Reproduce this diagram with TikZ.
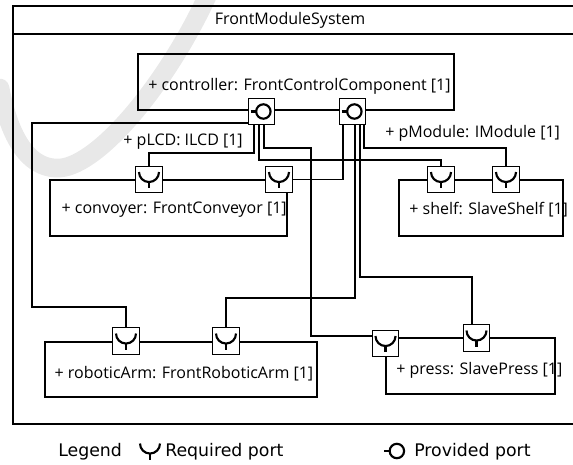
\documentclass[tikz,border=0pt]{standalone}
\usepackage{fontspec}
\setmainfont{Open Sans}
\newfontfamily\legendfont{DejaVu Sans}
\usetikzlibrary{positioning}

\tikzset{
  comp/.style={draw, line width=0.9pt, inner sep=0pt, minimum height=42pt},
  comptext/.style={anchor=west, inner sep=0pt, font=\fontsize{12}{14}\selectfont},
  port/.style={draw, line width=0.9pt, fill=white, minimum size=20pt, inner sep=0pt},
  wire/.style={line width=1.4pt},
  legendtext/.style={inner sep=0pt, font=\legendfont\fontsize{13}{15}\selectfont},
  % socket: cup with a short stem
  reqport/.pic={
    \draw[line width=1.6pt] (-7.5pt,5.6pt) arc[start angle=180, end angle=360, radius=7.5pt];
    \draw[line width=1.6pt] (0,-1.9pt) -- (0,-6.4pt);
  },
  % ball with a short stick on the left
  provport/.pic={
    \draw[line width=1.6pt] (1.4pt,0) circle[radius=5.4pt];
    \draw[line width=1.6pt] (-8.1pt,0) -- (-4pt,0);
  }
}

\begin{document}
\begin{tikzpicture}[x=0.75pt, y=-0.75pt]
  \useasboundingbox (0,0) rectangle (573,464);

  % light brush stroke behind everything
  \draw[black!9, line width=14pt, line cap=round]
    (210,-10) .. controls (170,80) and (100,165) .. (60,168)
    .. controls (25,170) and (8,130) .. (0,88);

  % system frame with its title bar
  \draw[line width=0.9pt] (13,6) rectangle (590,424);
  \draw[line width=0.9pt] (13,34) -- (590,34);
  \node[comptext, anchor=center] (sysname) at (290,20) {FrontModuleSystem};

  % parts
  \node[comp, minimum width=237pt] (controller) at (296,82) {};
  \node[comp, minimum width=177.75pt] (convoyer) at (168.5,208) {};
  \node[comp, minimum width=123pt] (shelf) at (481,208) {};
  \node[comp, minimum width=204pt, minimum height=41.25pt] (arm) at (181,369.5) {};
  \node[comp, minimum width=126.75pt] (press) at (470.5,366) {};

  \node[comptext] (controllertext) at ([xshift=8pt, yshift=-3pt]controller.west) {+ controller: FrontControlComponent [1]};
  \node[comptext] (convoyertext) at ([xshift=9pt, yshift=-1pt]convoyer.west) {+ convoyer: FrontConveyor [1]};
  \node[comptext] (shelftext) at ([xshift=8pt, yshift=-1pt]shelf.west) {+ shelf: SlaveShelf [1]};
  \node[comptext] (armtext) at ([xshift=7.5pt, yshift=-3pt]arm.west) {+ roboticArm: FrontRoboticArm [1]};
  \node[comptext] (presstext) at ([xshift=8pt, yshift=-3pt]press.west) {+ press: SlavePress [1]};

  \node[comptext, anchor=east] (lcdlbl) at (243,142) {+ pLCD: ILCD [1]};
  \node[comptext] (modlbl) at (385,133) {+ pModule: IModule [1]};

  % ports
  \foreach \nm/\x/\y in {lcd/261.5/111.5, mod/352.5/111.5} {
    \node[port] (\nm) at (\x,\y) {};
    \pic at (\nm) {provport};
  }
  \foreach \nm/\x/\y in {conv1/149/179.5, conv2/279/179.5, shelf1/441/179.5, shelf2/506/179.5,
                         arm1/126/341, arm2/226/341, press1/385.5/343.5, press2/476.5/338} {
    \node[port] (\nm) at (\x,\y) {};
    \pic at (\nm) {reqport};
  }

  % connectors
  \draw[wire] ([yshift=-8.6pt]lcd.west) -| (32,307) -| (arm1.north);
  \draw[wire] ([xshift=-5.6pt]lcd.south) |- ([yshift=9.75pt]conv1.north) -- (conv1.north);
  \draw[wire] ([xshift=-1.9pt]lcd.south) |- ([yshift=4.5pt]shelf1.north) -- (shelf1.north);
  \draw[wire] ([xshift=1.9pt]lcd.south) |- (311,148) |- ([yshift=5.6pt]press1.west);

  \draw[wire] ([xshift=-7.1pt]mod.south) |- (conv2.east);
  \draw[wire] ([xshift=1.9pt]mod.south) |- ([yshift=21.75pt]arm2.north) -- (arm2.north);
  \draw[wire] ([xshift=5.6pt]mod.south) |- ([xshift=-3.4pt, yshift=35.25pt]press2.north) -- ([xshift=-3.4pt]press2.north);
  \draw[wire] ([xshift=8.6pt]mod.south) |- ([yshift=13.5pt]shelf2.north) -- (shelf2.north);

  % legend
  \node[legendtext, anchor=west] (legend) at (58,452) {Legend};
  \coordinate (reqsym) at (150,451);
  \node[legendtext, anchor=west] (reqlbl) at (165,452) {Required port};
  \coordinate (provsym) at (395,451);
  \node[legendtext, anchor=west] (provlbl) at (414,452) {Provided port};
  \pic at (reqsym) {reqport};
  \pic at (provsym) {provport};
\end{tikzpicture}
\end{document}
